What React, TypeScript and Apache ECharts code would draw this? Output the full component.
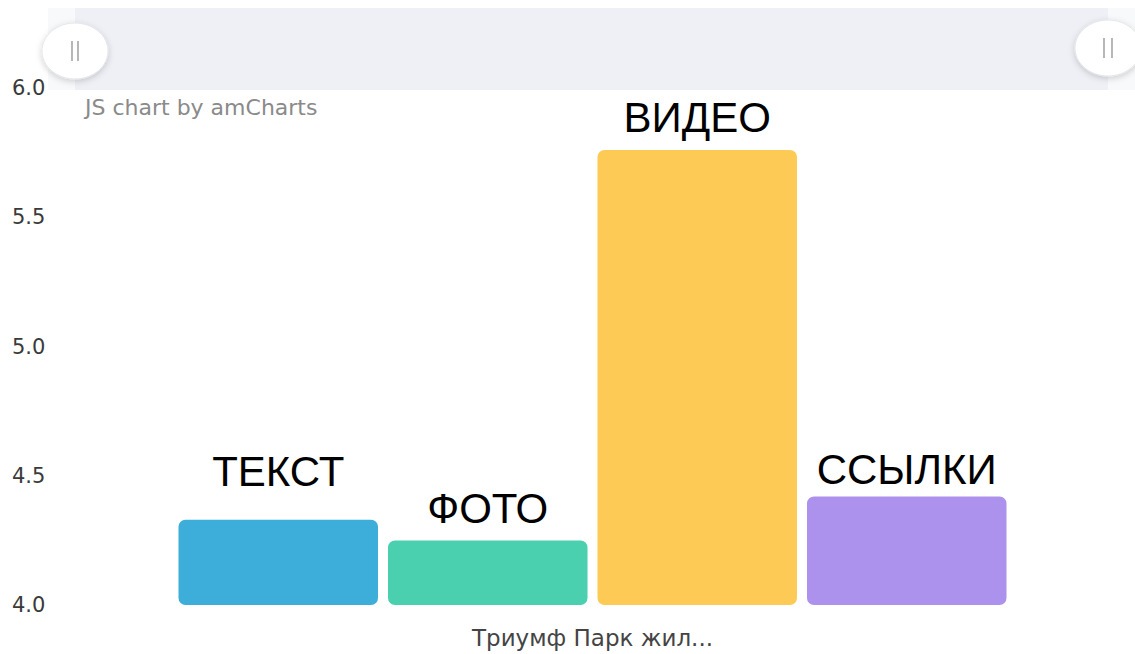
import React, { useEffect, useRef } from "react";
import * as echarts from "echarts";

const categories = ["Триумф Парк жил..."];
const seriesNames = ["ТЕКСТ", "ФОТО", "ВИДЕО", "ССЫЛКИ"];
const seriesValues = [[4.33], [4.25], [5.76], [4.42]];
const seriesColors = ["#3DAED9", "#4ACFAF", "#FDCB55", "#AC92EC"];
const labelDistances = [27, 11, 12, 6];
const yTicks = { min: 4, max: 6, interval: 0.5 };

export default function App() {
  const ref = useRef<HTMLDivElement>(null);
  useEffect(() => {
    if (!ref.current) return;
    const chart = echarts.init(ref.current, null, { renderer: "svg" });
    const grip = (cx: number, cy: number, gap: number) => [
      {
        type: "ellipse",
        shape: { cx, cy, rx: 33, ry: 28 },
        style: {
          fill: "#ffffff",
          stroke: "#e4e6ea",
          lineWidth: 1,
          shadowBlur: 6,
          shadowOffsetY: 2,
          shadowColor: "rgba(0,0,0,0.18)",
        },
        z: 10,
      },
      {
        type: "line",
        shape: { x1: cx - gap, y1: cy - 10, x2: cx - gap, y2: cy + 10 },
        style: { stroke: "#b0b0b0", lineWidth: 1.8 },
        z: 11,
      },
      {
        type: "line",
        shape: { x1: cx + gap, y1: cy - 10, x2: cx + gap, y2: cy + 10 },
        style: { stroke: "#b0b0b0", lineWidth: 1.8 },
        z: 11,
      },
    ];
    chart.setOption({
      animation: false,
      backgroundColor: "#ffffff",
      grid: { left: 75, right: 25, top: 88, bottom: 49, containLabel: false },
      xAxis: {
        type: "category",
        data: categories,
        axisLine: { show: false },
        axisTick: { show: false },
        axisLabel: {
          color: "#444",
          fontFamily: "DejaVu Sans",
          fontSize: 23,
          margin: 21,
        },
      },
      yAxis: {
        type: "value",
        min: yTicks.min,
        max: yTicks.max,
        interval: yTicks.interval,
        startValue: yTicks.min,
        splitLine: { show: false },
        axisLine: { show: false },
        axisTick: { show: false },
        axisLabel: {
          color: "#3a3a3a",
          fontFamily: "DejaVu Sans",
          fontSize: 21,
          align: "left",
          margin: 63,
          formatter: (v: number) => v.toFixed(1),
        },
      },
      series: seriesNames.map((name, i) => ({
        type: "bar",
        name,
        data: seriesValues[i],
        barGap: "5%",
        barCategoryGap: "20%",
        itemStyle: { color: seriesColors[i], borderRadius: 7 },
        label: {
          show: true,
          position: "top",
          distance: labelDistances[i],
          formatter: name,
          color: "#000",
          fontFamily: "Liberation Sans",
          fontSize: 42,
        },
      })),
      graphic: [
        {
          type: "rect",
          shape: { x: 48, y: 8, width: 1087, height: 82 },
          style: { fill: "#f8f9fb" },
          z: 5,
        },
        {
          type: "rect",
          shape: { x: 75, y: 8, width: 1033, height: 82 },
          style: { fill: "#eef0f5" },
          z: 6,
        },
        ...grip(75, 51, 3),
        ...grip(1108, 48, 4),
        {
          type: "text",
          x: 85,
          y: 107,
          style: {
            text: "JS chart by amCharts",
            fill: "#8a8a8a",
            fontFamily: "DejaVu Sans",
            fontSize: 22,
            verticalAlign: "middle",
          },
          z: 10,
        },
      ],
    });
    return () => chart.dispose();
  }, []);
  return (
    <div
      ref={ref}
      style={{ position: "absolute", left: 0, top: 0, width: 1135, height: 654 }}
    />
  );
}
